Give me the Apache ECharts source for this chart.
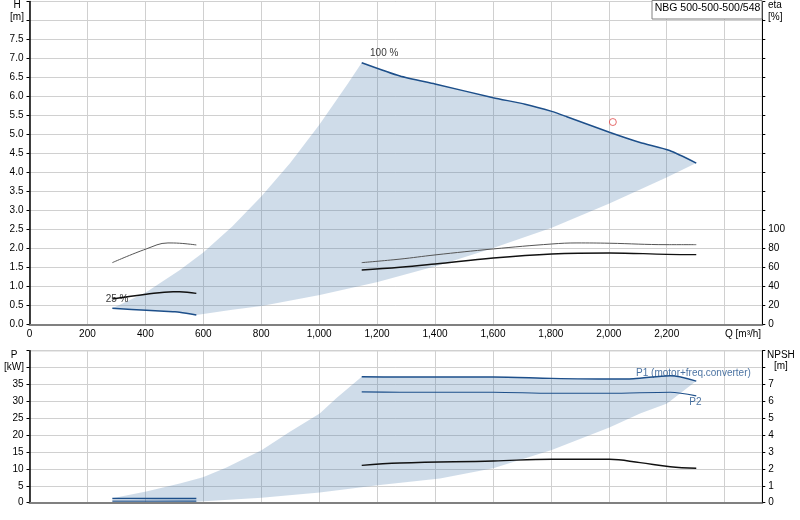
<!DOCTYPE html>
<html><head><meta charset="utf-8">
<script src="https://cdn.jsdelivr.net/npm/echarts@6/dist/echarts.min.js"></script>
<style>html,body{margin:0;padding:0;background:#fff}#c{width:800px;height:520px}</style>
</head><body><div id="c"></div>
<script>
// ---------- Data ----------
const titleText = 'NBG 500-500-500/548';
const speedLabels = ['100 %', '25 %'];
const powerLabels = ['P1 (motor+freq.converter)', 'P2'];

// Top chart: head H [m] vs Q [m³/h]
const h100 = [[1147,6.89],[1279,6.54],[1400,6.33],[1601,5.97],[1711,5.80],[1803,5.61],[1855,5.47],[2002,5.06],[2108,4.79],[2210,4.58],[2302,4.25]];
const h25 = [[286,0.43],[403,0.38],[495,0.34],[518,0.33],[576,0.255]];
const hUpperBound = [[286,0.43],[400,0.84],[518,1.43],[600,1.90],[700,2.58],[801,3.38],[900,4.25],[1000,5.25],[1100,6.35],[1147,6.89]];
const hLowerBound = [[576,0.255],[700,0.39],[801,0.49],[1002,0.78],[1202,1.12],[1417,1.57],[1601,2.02],[1803,2.55],[2002,3.19],[2201,3.88],[2302,4.25]];
const dutyPoint = [[2014,5.33]];

// Efficiency eta [%]
const etaPump100 = [[1147,65.3],[1279,69.0],[1400,73.4],[1601,79.7],[1803,84.9],[1890,86.0],[2002,85.7],[2201,84.2],[2302,84.2]];
const etaTotal100 = [[1147,57.6],[1279,60.4],[1400,63.9],[1601,70.2],[1803,74.4],[2002,75.5],[2201,74.0],[2302,73.7]];
const etaPump25 = [[286,65.3],[403,79.7],[478,86.0],[518,85.7],[576,83.9]];
const etaTotal25 = [[286,27.0],[403,32.0],[496,34.7],[518,34.7],[576,33.0]];

// Bottom chart: power P [kW] and NPSH [m]
const p1_100 = [[1147,37.3],[1279,37.2],[1601,37.2],[1803,36.8],[2002,36.6],[2085,36.7],[2212,37.6],[2302,36.0]];
const p2_100 = [[1147,32.8],[1279,32.7],[1601,32.7],[1803,32.4],[2002,32.4],[2212,32.7],[2302,31.6]];
const p1_25 = [[286,1.25],[576,1.25]];
const p2_25 = [[286,0.45],[576,0.45]];
const pUpperBound = [[286,1.3],[403,3.3],[519,5.7],[599,7.5],[680,10.4],[801,15.5],[899,21.0],[1002,26.4],[1060,31.0],[1147,37.3]];
const pLowerBound = [[576,0.3],[801,1.5],[1002,3.0],[1202,5.2],[1417,7.2],[1601,10.2],[1803,15.6],[2002,22.3],[2108,26.4],[2201,29.4],[2302,36.0]];
const npsh100 = [[1147,2.21],[1279,2.35],[1601,2.47],[1803,2.57],[2002,2.57],[2108,2.37],[2212,2.13],[2302,2.04]];

// ---------- Chart ----------
const FONT = '"Liberation Sans", Arial, sans-serif';
const BLUE = '#1d4f8a';
const SHADE = 'rgba(70,120,170,0.26)';
const GRIDC = '#d0d0d0';

const topPoly = [].concat(hUpperBound, h100, hLowerBound.slice().reverse(), h25.slice().reverse());
const botPoly = [].concat(pUpperBound, p1_100, pLowerBound.slice().reverse());

function xAx(gi, showLabels) {
  return {
    type: 'value', gridIndex: gi, min: 0, max: 2530, interval: 200,
    axisLine: { show: true, onZero: false, lineStyle: { color: '#808080', width: 2 } },
    axisTick: { show: false },
    axisLabel: { show: showLabels, color: '#000', fontSize: 10, fontFamily: FONT, margin: 5,
      formatter: v => (Math.abs(v % 200) < 1e-6 && v < 2400) ? v.toLocaleString('en-US') : '' },
    splitLine: { show: true, lineStyle: { color: GRIDC, width: 1 } }
  };
}
function yAx(gi, pos, max, interval, labelMax, fmt, split) {
  return {
    type: 'value', gridIndex: gi, position: pos, min: 0, max: max, interval: interval,
    axisLine: { show: true, onZero: false, lineStyle: { color: '#000', width: pos === 'left' ? 1.5 : 1 } },
    axisTick: { show: true, length: 3, lineStyle: { color: '#000' } },
    axisLabel: { color: '#000', fontSize: 10, fontFamily: FONT, margin: 6,
      formatter: v => v <= labelMax + 1e-6 ? fmt(v) : '' },
    splitLine: { show: split, lineStyle: { color: GRIDC, width: 1 } }
  };
}
function line(data, xi, yi, color, width, smooth) {
  return { type: 'line', data: data, xAxisIndex: xi, yAxisIndex: yi, showSymbol: false, symbol: 'none',
    smooth: smooth, lineStyle: { color: color, width: width }, z: 5, silent: true };
}
function poly(points, xi, yi) {
  return { type: 'custom', xAxisIndex: xi, yAxisIndex: yi, data: [[0, 0]], z: 1, silent: true,
    renderItem: (params, api) => ({ type: 'polygon', shape: { points: points.map(p => api.coord(p)) },
      style: { fill: SHADE } }) };
}
function textPt(pt, xi, yi, text, offset, color) {
  return { type: 'scatter', xAxisIndex: xi, yAxisIndex: yi, symbolSize: 0, z: 6, silent: true,
    data: [{ value: pt, label: { show: true, position: 'right', distance: 0, offset: offset,
      formatter: text, color: color, fontSize: 10, fontFamily: FONT } }] };
}
function gtext(x, y, text, align, size) {
  return { type: 'text', x: x, y: y, z: 10,
    style: { text: text, fill: '#000', font: (size || 10) + 'px ' + FONT, align: align, verticalAlign: 'middle' } };
}

const chart = echarts.init(document.getElementById('c'), null, { renderer: 'canvas' });
chart.setOption({
  animation: false,
  backgroundColor: '#fff',
  grid: [
    { left: 29.5, right: 37.7, top: 1.5, height: 323.2, show: true, borderColor: '#8a8a8a', borderWidth: 1, outerBoundsMode: 'none' },
    { left: 29.5, right: 37.7, top: 350.7, height: 152, show: true, borderColor: '#8a8a8a', borderWidth: 1, outerBoundsMode: 'none' }
  ],
  xAxis: [xAx(0, true), xAx(1, false)],
  yAxis: [
    yAx(0, 'left', 8.5, 0.5, 7.5, v => v.toFixed(1), true),
    yAx(0, 'right', 340, 20, 100, v => String(Math.round(v)), false),
    yAx(1, 'left', 45, 5, 35, v => String(Math.round(v)), true),
    yAx(1, 'right', 9, 1, 7, v => String(Math.round(v)), false)
  ],
  series: [
    poly(topPoly, 0, 0),
    poly(botPoly, 1, 2),
    line(h100, 0, 0, BLUE, 1.5, 0.2),
    line(h25, 0, 0, BLUE, 1.5, 0.3),
    line(etaPump100, 0, 1, '#555', 1, 0.4),
    line(etaTotal100, 0, 1, '#111', 1.4, 0.4),
    line(etaPump25, 0, 1, '#555', 1, 0.4),
    line(etaTotal25, 0, 1, '#111', 1.4, 0.4),
    line(p1_100, 1, 2, BLUE, 1.4, 0.3),
    line(p2_100, 1, 2, BLUE, 1.2, 0.3),
    line(p1_25, 1, 2, BLUE, 1.4, false),
    line(p2_25, 1, 2, BLUE, 1.2, false),
    line(npsh100, 1, 3, '#111', 1.4, 0.4),
    { type: 'scatter', xAxisIndex: 0, yAxisIndex: 0, data: dutyPoint, symbol: 'circle', symbolSize: 7, z: 7,
      itemStyle: { color: 'rgba(0,0,0,0)', borderColor: '#e04848', borderWidth: 1 } },
    textPt(h100[0], 0, 0, speedLabels[0], [8.3, -9], '#000'),
    textPt(h25[0], 0, 0, speedLabels[1], [-6.7, -9.3], '#000'),
    textPt(p1_100[p1_100.length - 1], 1, 2, powerLabels[0], [-60.2, -7.8], BLUE),
    textPt(p2_100[p2_100.length - 1], 1, 2, powerLabels[1], [-6.9, 6.4], BLUE)
  ],
  graphic: [
    { type: 'rect', z: 9, shape: { x: 652, y: 0.5, width: 110, height: 18.5 },
      style: { fill: '#fff', stroke: '#808080', lineWidth: 1 } },
    gtext(707.5, 8.5, titleText, 'center', 10.5),
    gtext(17, 5, 'H', 'center'),
    gtext(17, 17, '[m]', 'center'),
    gtext(768, 5, 'eta', 'left'),
    gtext(768, 17, '[%]', 'left'),
    gtext(725, 334.3, 'Q [m³/h]', 'left'),
    gtext(14, 355, 'P', 'center'),
    gtext(14, 367, '[kW]', 'center'),
    gtext(767, 355.7, 'NPSH', 'left'),
    gtext(774, 366.7, '[m]', 'left')
  ]
});
</script>
</body></html>
